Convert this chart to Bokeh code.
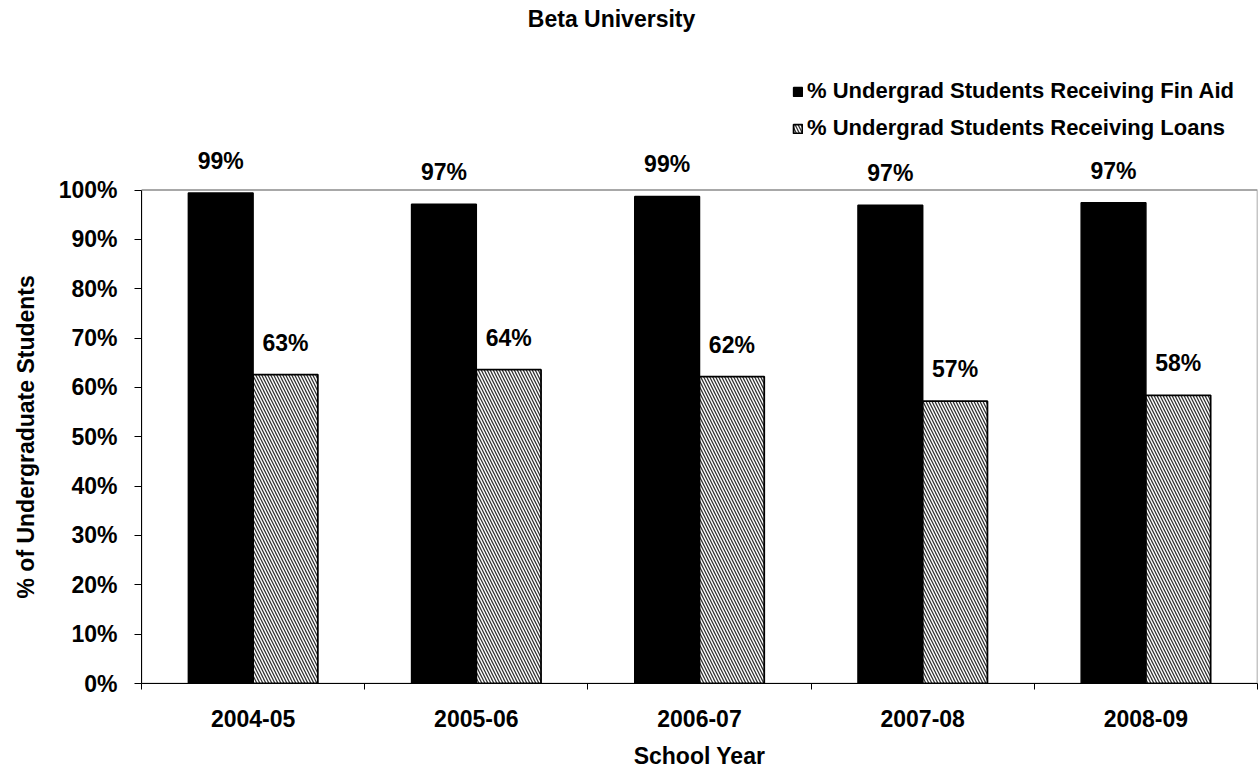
from bokeh.plotting import figure
from bokeh.models import (ColumnDataSource, FixedTicker, PrintfTickFormatter,
                          Legend, LegendItem, Range1d, Title)
from bokeh.core.properties import value
from bokeh.embed import file_html
from bokeh.resources import INLINE

# Data
years = ["2004-05", "2005-06", "2006-07", "2007-08", "2008-09"]
fin_aid = [99.4, 97.1, 98.7, 96.9, 97.4]
loans = [62.6, 63.6, 62.2, 57.2, 58.4]

series_names = ["% Undergrad Students Receiving Fin Aid",
                "% Undergrad Students Receiving Loans"]
chart_title = "Beta University"
x_title = "School Year"
y_title = "% of Undergraduate Students"

FONT = "Liberation Sans"
FS = "23px"
BAR_W = 0.29
Y_MAX = 100
# headroom above 100% for the title and the legend
Y_TOP = 138.4

n = len(years)
centers = [i + 0.5 for i in range(n)]
bounds = [float(i) for i in range(n + 1)]

src_aid = ColumnDataSource(dict(
    x=[c - BAR_W / 2 for c in centers], top=fin_aid,
    label=[f"{round(v)}%" for v in fin_aid]))
src_loan = ColumnDataSource(dict(
    x=[c + BAR_W / 2 for c in centers], top=loans,
    label=[f"{round(v)}%" for v in loans]))

p = figure(width=1259, height=771, output_backend="svg", toolbar_location=None,
           x_range=Range1d(0, n), y_range=Range1d(0, Y_TOP),
           min_border_left=141, min_border_right=2,
           min_border_top=0, min_border_bottom=88)

p.outline_line_color = None
p.xgrid.visible = False
p.ygrid.visible = False

# plot-area border (0..100%)
p.quad(left=[0], right=[n], bottom=[0], top=[Y_MAX],
       fill_color=None, line_color="#8c8c8c", line_width=1.5)

r_aid = p.vbar(x="x", top="top", width=BAR_W, bottom=0, source=src_aid,
               fill_color="black", line_color="black", line_width=1.5)
r_loan = p.vbar(x="x", top="top", width=BAR_W, bottom=0, source=src_loan,
                fill_color="white", line_color="black", line_width=1.8,
                hatch_pattern="left_diagonal_line", hatch_color="#333333",
                hatch_scale=6, hatch_weight=1.3)

for src in (src_aid, src_loan):
    p.text(x="x", y="top", text="label", source=src,
           text_align="center", text_baseline="bottom", y_offset=-19,
           text_font=value(FONT), text_font_style="bold",
           text_font_size=FS, text_color="black")

p.text(x=[2.106], y=[134.6], text=[chart_title],
       text_align="center", text_baseline="middle",
       text_font=value(FONT), text_font_style="bold",
       text_font_size=FS, text_color="black")

# x axis: labels at the category centres, ticks at the boundaries
xa = p.xaxis[0]
xa.ticker = FixedTicker(ticks=centers, minor_ticks=bounds)
xa.major_label_overrides = {c: y for c, y in zip(centers, years)}
xa.major_tick_out = 0
xa.major_tick_in = 0
xa.minor_tick_out = 6
xa.minor_tick_in = 0
xa.major_label_standoff = 20
xa.axis_label = x_title
xa.axis_label_standoff = 13

ya = p.yaxis[0]
ya.ticker = FixedTicker(ticks=list(range(0, Y_MAX + 1, 10)))
ya.formatter = PrintfTickFormatter(format="%d%%")
ya.bounds = (0, Y_MAX)
ya.major_tick_out = 7
ya.major_tick_in = 0
ya.minor_tick_out = 0
ya.minor_tick_in = 0
ya.major_label_standoff = 17

for ax in (xa, ya):
    ax.axis_line_color = "black"
    ax.axis_line_width = 1
    ax.major_tick_line_color = "black"
    ax.minor_tick_line_color = "black"
    ax.major_label_text_font = FONT
    ax.major_label_text_font_style = "bold"
    ax.major_label_text_font_size = FS
    ax.major_label_text_color = "black"
    ax.axis_label_text_font = FONT
    ax.axis_label_text_font_style = "bold"
    ax.axis_label_text_font_size = FS
    ax.axis_label_text_color = "black"

# a tiny blank label on the y axis leaves a little gap before the title
ya.axis_label = " "
ya.axis_label_text_font_size = "1px"
ya.axis_label_standoff = 6

# vertical axis title, starting from the bottom of the frame and lifted so
# that it sits centred on the 0..100% span
p.add_layout(Title(text=y_title, align="left", offset=85,
                   standoff=14, text_font=FONT, text_font_style="bold",
                   text_font_size=FS, text_color="black"), "left")

legend = Legend(items=[LegendItem(label=series_names[0], renderers=[r_aid]),
                       LegendItem(label=series_names[1], renderers=[r_loan])],
                location=(651, 542), orientation="vertical",
                glyph_width=11, glyph_height=11, label_standoff=4,
                label_height=22, spacing=11, padding=0, margin=0,
                border_line_color=None, background_fill_alpha=0,
                label_text_font=FONT, label_text_font_style="bold",
                label_text_font_size="22px", label_text_color="black")
p.add_layout(legend)

open("out.html", "w").write(file_html(p, INLINE))
